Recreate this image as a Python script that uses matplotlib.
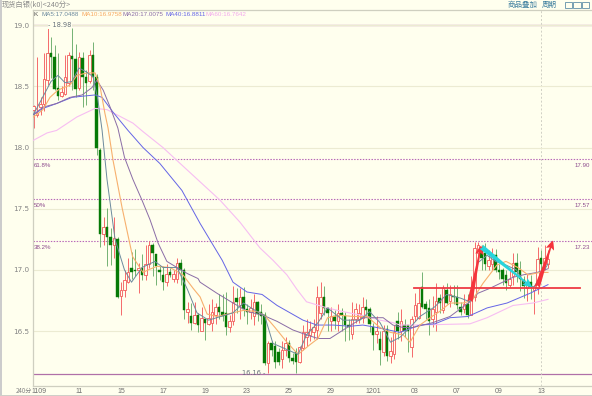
import numpy as np
import matplotlib
matplotlib.use('Agg')
import matplotlib.pyplot as plt
from matplotlib.patches import FancyArrowPatch, Rectangle

plt.rcParams['font.family'] = ['Noto Sans CJK SC', 'DejaVu Sans']

# candles, one per 240 min bar
opens = [18.31,18.27,18.33,18.36,18.55,18.77,18.74,18.49,18.42,18.44,
         18.53,18.75,18.72,18.49,18.73,18.58,18.54,18.76,18.58,17.98,
         17.29,17.35,17.27,17.20,17.25,16.79,16.84,16.90,17.02,17.00,
         17.00,17.02,16.96,17.05,17.20,17.13,17.00,16.96,16.90,16.98,
         16.93,16.93,17.06,17.00,16.66,16.62,16.57,16.63,16.50,16.60,
         16.56,16.57,16.63,16.70,16.66,16.65,16.53,16.58,16.77,16.71,
         16.78,16.68,16.66,16.62,16.74,16.66,16.63,16.24,16.40,16.38,
         16.33,16.27,16.35,16.40,16.28,16.33,16.25,16.36,16.45,16.47,
         16.49,16.51,16.65,16.78,16.69,16.58,16.62,16.58,16.65,16.62,
         16.55,16.48,16.60,16.60,16.61,16.70,16.68,16.53,16.48,16.44,
         16.33,16.52,16.30,16.31,16.58,16.50,16.55,16.55,16.37,16.62,
         16.61,16.86,16.72,16.69,16.60,16.66,16.77,16.67,16.84,16.75,
         16.79,16.78,16.70,16.68,16.72,16.63,16.78,17.14,17.18,17.14,
         17.03,17.05,17.12,17.00,17.00,16.96,16.88,16.95,17.06,17.00,
         16.92,16.85,16.90,16.84,16.85,17.10,17.05,17.05]
closes = [18.34,18.28,18.36,18.56,18.77,18.74,18.48,18.42,18.45,18.58,
          18.76,18.72,18.48,18.74,18.58,18.53,18.76,18.58,18.00,17.29,
          17.35,17.27,17.20,17.26,16.78,16.84,16.92,16.98,16.98,16.99,
          17.02,16.96,17.05,17.20,17.14,17.03,16.98,16.90,16.97,16.96,
          16.97,17.06,17.00,16.67,16.68,16.57,16.63,16.55,16.61,16.57,
          16.61,16.66,16.70,16.66,16.62,16.53,16.58,16.74,16.74,16.78,
          16.68,16.66,16.69,16.74,16.64,16.62,16.24,16.40,16.35,16.25,
          16.25,16.35,16.40,16.28,16.26,16.25,16.37,16.49,16.49,16.52,
          16.53,16.78,16.78,16.69,16.65,16.62,16.58,16.65,16.63,16.55,
          16.53,16.60,16.68,16.65,16.70,16.67,16.56,16.47,16.50,16.35,
          16.50,16.30,16.34,16.49,16.50,16.58,16.50,16.50,16.60,16.71,
          16.73,16.70,16.68,16.58,16.68,16.75,16.73,16.85,16.73,16.80,
          16.78,16.71,16.66,16.72,16.63,16.80,17.18,17.20,17.10,17.05,
          17.08,17.12,17.00,16.98,16.93,16.89,16.93,17.06,16.98,16.93,
          16.87,16.88,16.86,16.87,17.09,17.05,17.10,17.09]
highs = [18.35,18.74,18.41,18.77,18.98,18.90,18.84,18.77,18.50,18.76,
         18.78,18.98,18.85,18.78,18.78,18.63,18.80,18.86,18.60,18.00,
         17.43,17.51,17.34,17.43,17.27,16.90,17.00,17.10,17.15,17.17,
         17.06,17.13,17.20,17.24,17.22,17.13,17.03,17.03,17.05,17.02,
         17.00,17.10,17.09,17.02,16.74,16.73,16.74,16.65,16.70,16.60,
         16.72,16.76,16.73,16.80,16.80,16.82,16.63,16.87,16.85,16.85,
         16.86,16.72,16.76,16.80,16.75,16.72,16.66,16.42,16.42,16.42,
         16.36,16.42,16.45,16.43,16.32,16.36,16.38,16.55,16.60,16.58,
         16.60,16.87,16.90,16.87,16.70,16.70,16.67,16.72,16.69,16.66,
         16.60,16.74,16.73,16.72,16.78,16.76,16.70,16.57,16.62,16.50,
         16.55,16.55,16.45,16.55,16.66,16.68,16.60,16.55,16.62,16.81,
         16.85,16.98,16.75,16.76,16.79,16.89,16.80,16.88,16.89,16.88,
         16.88,16.88,16.74,16.80,16.80,16.95,17.23,17.23,17.20,17.22,
         17.16,17.18,17.17,17.05,17.02,17.00,17.00,17.14,17.14,17.07,
         16.95,16.97,16.96,16.88,17.19,17.16,17.20,17.16]
lows = [18.16,18.25,18.27,18.30,18.51,18.57,18.47,18.39,18.41,18.43,
        18.50,18.47,18.41,18.47,18.33,18.35,18.53,18.47,17.94,17.19,
        17.20,17.03,17.04,17.10,16.77,16.63,16.78,16.89,16.93,16.95,
        16.81,16.92,16.92,17.02,16.95,16.88,16.92,16.84,16.87,16.94,
        16.90,16.89,16.88,16.60,16.57,16.51,16.56,16.49,16.50,16.43,
        16.55,16.50,16.56,16.60,16.58,16.47,16.49,16.55,16.65,16.60,
        16.62,16.56,16.60,16.55,16.58,16.56,16.22,16.16,16.30,16.20,
        16.22,16.20,16.30,16.25,16.23,16.16,16.24,16.35,16.38,16.42,
        16.44,16.44,16.60,16.63,16.50,16.50,16.52,16.50,16.50,16.42,
        16.43,16.44,16.57,16.57,16.57,16.62,16.49,16.35,16.40,16.22,
        16.30,16.26,16.24,16.27,16.44,16.42,16.45,16.33,16.29,16.58,
        16.60,16.69,16.60,16.47,16.53,16.50,16.65,16.65,16.72,16.70,
        16.72,16.68,16.63,16.65,16.61,16.63,16.75,17.10,17.00,17.00,
        17.00,17.00,16.98,16.93,16.88,16.84,16.86,16.88,16.90,16.83,
        16.77,16.75,16.76,16.64,16.80,17.00,17.00,17.02]

# moving averages (bar number, price)
ma5_x = [0,5,7,9,11,13,15,17,18.4,19.6,21,23.3,26,28,31,34.7,37,41,44,46.7,50,54.7,57,60,63.3,66,68.4,72.4,75.6,78,81.3,84,88.4,93.3,96,99,102,104.7,107.6,110.4,114.7,118,122,124.7,127,129.6,132,135,138,140.4,143,145.5,147]
ma5_y = [18.27,18.54,18.59,18.53,18.54,18.65,18.62,18.58,18.39,18.14,17.74,17.25,17.0,16.9,17.02,17.07,17.02,17.02,16.84,16.65,16.59,16.63,16.65,16.73,16.67,16.63,16.4,16.35,16.31,16.47,16.57,16.69,16.59,16.59,16.66,16.57,16.41,16.45,16.53,16.62,16.7,16.8,16.77,16.74,17.06,17.12,17.07,17.04,17.0,16.88,16.86,16.98,17.05]
ma10_x = [0,2.7,4.7,7,10.4,12.4,15.3,17.6,19,20.4,21.3,22.7,25.3,28.3,31.3,32.7,35.3,39,42.7,45.6,47.6,49.6,52.4,57,60,64,66,69,72.4,75.6,79,81.3,84,87.6,91.3,95.3,99,102,105.6,107.6,110.4,113.3,116,119,122.7,125.3,128.4,132.4,135,138.4,141.3,144.7,147]
ma10_y = [18.25,18.31,18.41,18.47,18.51,18.59,18.61,18.61,18.5,18.28,18.16,17.9,17.51,17.11,16.98,17.0,17.03,17.02,16.96,16.85,16.78,16.64,16.62,16.65,16.67,16.66,16.63,16.53,16.41,16.31,16.39,16.44,16.61,16.63,16.62,16.62,16.53,16.49,16.47,16.41,16.55,16.61,16.66,16.73,16.73,16.75,16.89,17.04,17.07,17.02,16.96,16.98,16.98]
ma20_x = [0,2.7,6.6,10.4,13.9,16.7,18.1,19.9,21.9,24.1,26,28.4,31,33.3,35.6,37.6,38.1,41,44,47,47.6,52.4,57,61.3,65.6,69.6,74.1,78,81.3,84.7,89.6,94.1,99.9,102.7,105.6,108.4,114.1,119,124.7,127,130.4,133.3,137,139.9,143.9,147]
ma20_y = [18.27,18.33,18.36,18.41,18.43,18.49,18.55,18.47,18.33,18.16,17.92,17.74,17.57,17.41,17.22,17.1,17.07,17.02,16.97,16.93,16.9,16.81,16.73,16.66,16.63,16.58,16.51,16.47,16.44,16.44,16.53,16.61,16.61,16.55,16.53,16.53,16.57,16.62,16.74,16.81,16.85,16.89,16.94,16.96,16.98,17.01]
ma40_x = [0,2.7,6.6,11,14.1,17.6,19.6,22.7,27,31.3,36.1,42.4,47.6,53.9,57,61,65.3,69.6,73.3,77,81,85.6,90.4,94.1,98.1,104.7,110.4,114.7,119,124.1,129.6,135.3,141.9,147]
ma40_y = [18.27,18.32,18.36,18.41,18.42,18.43,18.41,18.29,18.14,18.0,17.87,17.65,17.38,17.08,16.9,16.82,16.8,16.71,16.65,16.59,16.55,16.55,16.54,16.55,16.53,16.49,16.55,16.56,16.61,16.62,16.69,16.73,16.81,16.88]
ma60_x = [0,3.9,6.6,12.4,17.6,21,28.4,31.3,37,41.9,47.6,53.3,59,64.7,68.4,72.4,75.3,78,83.9,88.4,95.3,99,102.7,104.7,109.6,124.7,129.6,137,142.7,147]
ma60_y = [18.06,18.12,18.14,18.25,18.32,18.31,18.2,18.13,18.0,17.87,17.72,17.57,17.39,17.18,17.08,16.96,16.84,16.74,16.69,16.66,16.62,16.59,16.57,16.55,16.55,16.56,16.61,16.71,16.73,16.76]

ma_labels = ['MA5:17.0488', 'MA10:16.9758', 'MA20:17.0075', 'MA40:16.8811', 'MA60:16.7642']

y_ticks = [16.5, 17.0, 17.5, 18.0, 18.5, 19.0]
y_tick_labels = ['16.5', '17.0', '17.5', '18.0', '18.5', '19.0']
x_ticks = [1.6, 13, 25, 37, 49, 61, 73, 85, 97, 109, 121, 133, 145]
x_tick_labels = ['1109', '11', '15', '17', '19', '23', '25', '29', '1201', '03', '07', '09', '13']

fib_levels = [17.91, 17.58, 17.24]
fib_left = ['61.8%', '50%', '38.2%']
fib_right = ['17.90', '17.57', '17.23']
top_level = 19.0
bottom_level = 16.15

# hand drawn trend marks
support_x = [108.7, 156]
support_y = [16.855, 16.855]
arrows_x = [(124.7, 127.9), (127.9, 142.4), (143.9, 148.4)]
arrows_y = [(16.74, 17.2), (17.19, 16.86), (16.86, 17.24)]
arrow_colors = ['#f5343c', '#28d4dc', '#f5343c']

bg = '#ffffee'
W, H = 592, 396
fig = plt.figure(figsize=(W / 100, H / 100), dpi=100, facecolor=bg)
left, right, top, bottom = 32.5, 592, 10, 386
ax = fig.add_axes([left / W, 1 - bottom / H, (right - left) / W, (bottom - top) / H], facecolor=bg)

ax.set_xlim(-0.286, 159.57)
ax.set_ylim(16.052, 19.124)

ax.spines['right'].set_visible(False)
for s in ['left', 'top', 'bottom']:
    ax.spines[s].set_color('#cfcfc0')
    ax.spines[s].set_linewidth(0.9)

ax.set_yticks(y_ticks)
ax.set_yticklabels(y_tick_labels, fontsize=5.2, color='#858585', family='DejaVu Sans')
ax.set_xticks(x_ticks)
ax.set_xticklabels(x_tick_labels, fontsize=5.0, color='#707070', family='Liberation Sans')
ax.tick_params(axis='both', length=0, pad=2)
ax.tick_params(axis='x', pad=1.5)
ax.grid(axis='y', color='#ecebd2', lw=0.8, zorder=0)

# price levels
ax.axhline(top_level, color='#b070a8', lw=0.9, zorder=1)
ax.axhline(bottom_level, color='#b070a8', lw=0.9, zorder=1)
for lev, l1, l2 in zip(fib_levels, fib_left, fib_right):
    ax.axhline(lev, color='#b868b8', lw=0.8, ls=(0, (1.3, 1.3)), zorder=1)
    ax.text(0.2, lev - 0.035, l1, fontsize=4.4, color='#8d4a8d', va='top', family='Liberation Sans')
    ax.text(154.5, lev - 0.035, l2, fontsize=4.4, color='#8d4a8d', va='top', family='Liberation Sans')
ax.axvline(145, color='#d0d0c4', lw=0.7, ls=(0, (2, 2)), zorder=1)

# candles
x = np.arange(len(opens))
for i in x:
    up = closes[i] >= opens[i]
    if up:
        ax.vlines(i, lows[i], highs[i], color='#f56a6a', lw=0.7, zorder=2)
        ax.bar(i, closes[i] - opens[i], bottom=opens[i], width=0.6, facecolor=bg,
               edgecolor='#f25a5a', lw=0.6, zorder=3)
    else:
        ax.vlines(i, lows[i], highs[i], color='#74b274', lw=0.7, zorder=2)
        ax.bar(i, opens[i] - closes[i], bottom=closes[i], width=0.72, facecolor='#067a06',
               edgecolor='#067a06', lw=0.3, zorder=3)

# moving averages
ax.plot(ma60_x, ma60_y, color='#f7bdf2', lw=0.8, zorder=4)
ax.plot(ma40_x, ma40_y, color='#6464e6', lw=0.7, zorder=4)
ax.plot(ma20_x, ma20_y, color='#8a6ca6', lw=0.7, zorder=4)
ax.plot(ma10_x, ma10_y, color='#f7b06e', lw=0.8, zorder=4)
ax.plot(ma5_x, ma5_y, color='#6c8a9e', lw=0.7, zorder=4)

# trend marks
ax.plot(support_x, support_y, color='#ee3a44', lw=1.3, zorder=5)
for xs, ys, c in zip(arrows_x, arrows_y, arrow_colors):
    ax.add_patch(FancyArrowPatch((xs[0], ys[0]), (xs[1], ys[1]),
                                 arrowstyle='fancy,head_length=0.55,head_width=0.5,tail_width=0.32',
                                 connectionstyle='arc3,rad=0', mutation_scale=12,
                                 shrinkA=0, shrinkB=0, color=c, lw=0, zorder=6))

# high and low notes
ax.text(4.2, 19.0, '- 18.98', fontsize=4.8, color='#66707a', va='center', family='DejaVu Sans',
        bbox=dict(facecolor=bg, edgecolor='none', pad=0.3), zorder=7)
ax.text(59.5, 16.16, '16.16 -', fontsize=4.8, color='#66707a', va='center', family='DejaVu Sans')

# header text
def px_text(px, py, s, **kw):
    fig.text(px / W, 1 - py / H, s, va='center', **kw)

px_text(2, 4.5, '现货白银(k0)<240分>', fontsize=5.2, color='#8a8a8a')
px_text(33, 14.5, 'K', fontsize=4.6, color='#505050', family='Liberation Sans')
ma_colors = ['#6c8a9e', '#f7a860', '#8a6ca6', '#6464e6', '#f2a8ec']
ma_pos = [41, 81, 122.5, 165, 206]
for s, c, p in zip(ma_labels, ma_colors, ma_pos):
    px_text(p, 14.5, s, fontsize=4.5, color=c, family='Liberation Sans')
px_text(15.5, 391, '240分', fontsize=4.4, color='#808080')
px_text(508, 4.5, '商品叠加', fontsize=5.4, color='#3f7f9f')
px_text(542, 4.5, '周期', fontsize=5.4, color='#3f7f9f')
for p in [564.5, 573, 581.5]:
    fig.add_artist(Rectangle((p / W, 1 - 7.5 / H), 7.5 / W, 5.5 / H, transform=fig.transFigure,
                             facecolor=bg, edgecolor='#5f8fa8', lw=0.6))

# window edges
fig.add_artist(Rectangle((0, 0), 1.5 / W, 1, transform=fig.transFigure, facecolor='#cccccc', lw=0))
fig.add_artist(Rectangle((0, 0), 1, 1.2 / H, transform=fig.transFigure, facecolor='#cfcfc8', lw=0))

fig.savefig('out.png', dpi=100, facecolor=bg)
